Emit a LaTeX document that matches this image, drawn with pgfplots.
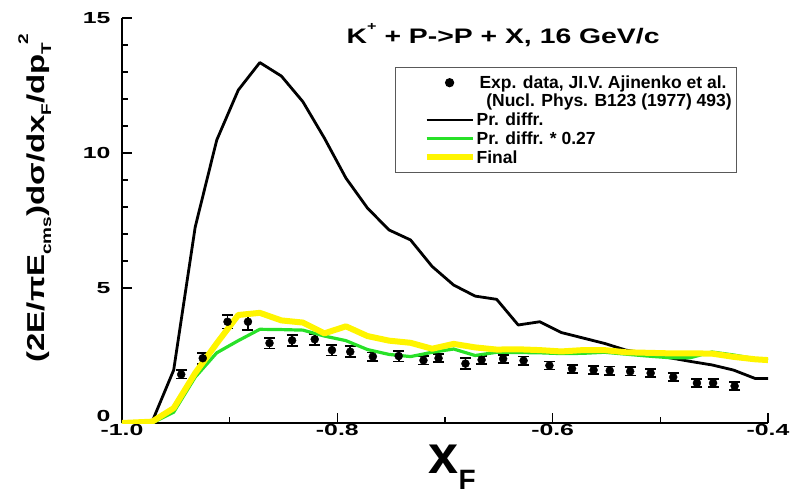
\documentclass[border=0pt]{standalone}
\usepackage{pgfplots}
\pgfplotsset{compat=1.18}
\usepackage{fontspec}
\setmainfont{Liberation Sans}

\definecolor{diffgreen}{RGB}{40,225,40}
\definecolor{finalyellow}{RGB}{255,245,0}

% small lowered / raised text for indices in labels
\newcommand{\lo}[1]{\raisebox{-0.5ex}{\fontsize{19}{19}\selectfont #1}}
\newcommand{\hi}[1]{\raisebox{1.3ex}{\fontsize{19}{19}\selectfont #1}}
% wide bold tick numbers
\newcommand{\wide}[1]{\scalebox{1.55}[1]{#1}}

% legend symbols
\pgfplotsset{
  leg line/.style={legend image code/.code={\path (-24pt,0pt) (0pt,0pt);
      \draw[##1] (0pt,0pt) -- (46pt,0pt);}},
  leg mark/.style={legend image code/.code={\path (-24pt,0pt) (46pt,0pt);
      \draw[##1, mark repeat=2, mark phase=2] plot coordinates {(0pt,0pt) (23pt,0pt) (46pt,0pt)};}},
}

% experimental points: x_F, value, error
\pgfplotstableread{
x      y     e
-0.945 1.80 0.15
-0.925 2.40 0.20
-0.902 3.75 0.25
-0.883 3.75 0.30
-0.863 2.96 0.20
-0.842 3.06 0.20
-0.821 3.10 0.20
-0.805 2.70 0.20
-0.788 2.64 0.20
-0.767 2.46 0.15
-0.743 2.48 0.20
-0.720 2.32 0.15
-0.706 2.40 0.15
-0.681 2.20 0.20
-0.666 2.34 0.15
-0.646 2.38 0.15
-0.627 2.31 0.15
-0.603 2.13 0.15
-0.582 2.01 0.15
-0.562 1.96 0.15
-0.547 1.94 0.15
-0.528 1.91 0.15
-0.509 1.85 0.15
-0.488 1.70 0.15
-0.466 1.48 0.15
-0.451 1.48 0.15
-0.431 1.37 0.15
}\expdata

% proton diffraction
\pgfplotstableread{
x      y
-0.990 0.00
-0.972 0.05
-0.952 1.96
-0.932 7.26
-0.912 10.48
-0.892 12.33
-0.872 13.35
-0.852 12.85
-0.832 11.90
-0.812 10.55
-0.792 9.07
-0.772 7.96
-0.752 7.15
-0.732 6.78
-0.712 5.80
-0.692 5.11
-0.672 4.70
-0.652 4.58
-0.632 3.63
-0.612 3.75
-0.592 3.35
-0.572 3.15
-0.552 2.95
-0.532 2.70
-0.512 2.58
-0.492 2.42
-0.472 2.28
-0.452 2.15
-0.432 1.96
-0.412 1.65
-0.400 1.65
}\prdiffr

% proton diffraction scaled by 0.27
\pgfplotstableread{
x      y
-1.000 0.00
-0.972 0.00
-0.952 0.40
-0.932 1.70
-0.912 2.60
-0.892 3.05
-0.872 3.47
-0.852 3.46
-0.832 3.44
-0.812 3.22
-0.792 3.05
-0.772 2.72
-0.752 2.54
-0.732 2.46
-0.712 2.62
-0.692 2.74
-0.672 2.50
-0.652 2.62
-0.632 2.61
-0.612 2.60
-0.592 2.57
-0.572 2.58
-0.552 2.62
-0.532 2.55
-0.512 2.48
-0.492 2.42
-0.472 2.42
-0.452 2.63
-0.432 2.52
-0.412 2.38
-0.400 2.33
}\prscaled

% final result
\pgfplotstableread{
x      y
-1.000 0.00
-0.972 0.05
-0.952 0.55
-0.932 1.85
-0.912 2.95
-0.892 4.00
-0.872 4.08
-0.852 3.80
-0.832 3.72
-0.812 3.32
-0.792 3.58
-0.772 3.22
-0.752 3.05
-0.732 2.97
-0.712 2.75
-0.692 2.93
-0.672 2.80
-0.652 2.72
-0.632 2.73
-0.612 2.70
-0.592 2.65
-0.572 2.70
-0.552 2.70
-0.532 2.62
-0.512 2.60
-0.492 2.58
-0.472 2.58
-0.452 2.57
-0.432 2.45
-0.412 2.36
-0.400 2.33
}\final

\begin{document}
\begin{tikzpicture}
\path[use as bounding box] (-122pt,-75pt) rectangle (670pt,423pt);
\begin{axis}[
  at={(0pt,0pt)}, anchor=south west,
  scale only axis, width=646pt, height=405pt,
  xmin=-1.0, xmax=-0.4, ymin=0, ymax=15,
  axis x line=bottom, axis y line=left,
  axis line style={-, line width=1.8pt},
  tick align=inside,
  xtick={-1.0,-0.8,-0.6,-0.4},
  xticklabels={\wide{-1.0},\wide{-0.8},\wide{-0.6},\wide{-0.4}},
  ytick={5,10,15},
  yticklabels={\wide{5},\wide{10},\wide{15}},
  extra y ticks={0}, extra y tick labels={\wide{0}},
  extra y tick style={yticklabel style={yshift=7pt}},
  minor x tick num=1, minor y tick num=4,
  major tick length=10pt, minor tick length=6pt,
  tick style={black, line width=1.5pt},
  tick label style={font=\bfseries\fontsize{16}{16}\selectfont},
  xticklabel style={yshift=2pt},
  yticklabel style={xshift=-8pt},
  xlabel={\fontsize{54}{54}\selectfont x\raisebox{-0.55ex}{\fontsize{28}{28}\selectfont F}},
  xlabel style={at={(axis description cs:0.511,-0.11)}, anchor=center, font=\bfseries},
  ylabel={\scalebox{1}[0.74]{(2E/πE\lo{cms})dσ/dx\lo{F}/dp\lo{T}\kern-2pt\hi{2}}},
  ylabel style={at={(axis description cs:-0.135,0.555)}, anchor=center, font=\bfseries\fontsize{33}{33}\selectfont},
  legend style={at={(axis description cs:0.4226,0.879)}, anchor=north west,
    draw=black!65, line width=1.2pt, fill=white,
    font=\bfseries\fontsize{17.5}{20}\selectfont,
    row sep=3.5pt, inner xsep=4pt, inner ysep=7.5pt,
    nodes={inner xsep=1pt, inner ysep=0.5pt}},
  legend cell align=left,
]
\addlegendimage{black, only marks, mark=*, mark size=4pt, leg mark}
\addlegendentry{\,Exp. data, JI.V. Ajinenko et al.\hspace{26pt}}
\addlegendimage{empty legend}
\addlegendentry{\ \ (Nucl. Phys. B123 (1977) 493)}
\addlegendimage{black, line width=2.8pt, leg line}
\addlegendentry{Pr. diffr.}
\addlegendimage{diffgreen, line width=3.2pt, leg line}
\addlegendentry{Pr. diffr. * 0.27}
\addlegendimage{finalyellow, line width=6pt, leg line}
\addlegendentry{Final}

% experimental points with error bars
\addplot[forget plot, black, only marks, mark=*, mark size=4pt,
  error bars/.cd, y dir=both, y explicit,
  error bar style={line width=1.6pt},
  error mark options={rotate=90, mark size=5.5pt, line width=1.8pt}]
  table[x=x, y=y, y error=e] {\expdata};

% calculated curves
\addplot[forget plot, black, line width=2.8pt, line join=round] table[x=x, y=y] {\prdiffr};
\addplot[forget plot, diffgreen, line width=3.2pt, line join=round] table[x=x, y=y] {\prscaled};
\addplot[forget plot, finalyellow, line width=6pt, line join=round] table[x=x, y=y] {\final};

\node[font=\bfseries\fontsize{21}{21}\selectfont] at (axis description cs:0.59,0.958)
  {\scalebox{1.35}[1]{K\raisebox{1.1ex}{\fontsize{12}{12}\selectfont +} + P->P + X, 16 GeV/c}};
\end{axis}
\end{tikzpicture}
\end{document}
